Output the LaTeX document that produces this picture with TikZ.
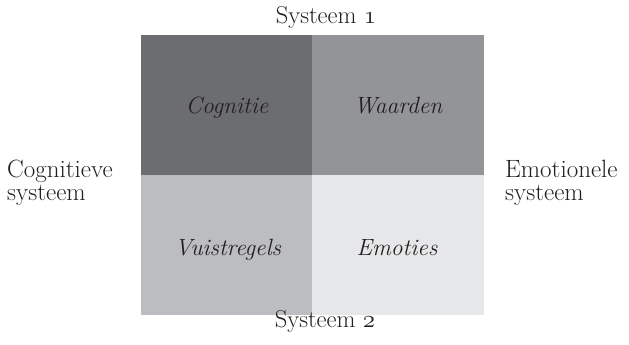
\documentclass[tikz,border=0pt]{standalone}
\usepackage{fontspec}
\definecolor{qdark}{HTML}{6C6D71}
\definecolor{qmid}{HTML}{939497}
\definecolor{qlight}{HTML}{BCBDC0}
\definecolor{qpale}{HTML}{E6E7E8}
\definecolor{ink}{HTML}{231F20}
\newcommand{\heavier}{\addfontfeature{FakeBold=0.6}}
% old-style figure taken from the math italic font
\newcommand{\ofig}[1]{{\usefont{OML}{cmm}{m}{it}#1}}
\begin{document}
\begin{tikzpicture}[x=1pt,y=-1pt,
  quad/.style={fill=#1, draw=none},
  cell/.style={anchor=base, font=\fontsize{23.5}{27}\selectfont\itshape\heavier, text=ink, inner sep=0pt},
  axis/.style={anchor=base, font=\fontsize{24.5}{28}\selectfont\heavier, text=ink, inner sep=0pt},
  side/.style={anchor=base west, font=\fontsize{25}{28}\selectfont\heavier, text=ink, inner sep=0pt}]
  \useasboundingbox (0,0) rectangle (629,345);
  % four quadrants
  \fill[quad=qdark]  (141,35)  rectangle (312,175);
  \fill[quad=qmid]   (312,35)  rectangle (484,175);
  \fill[quad=qlight] (141,175) rectangle (312,315);
  \fill[quad=qpale]  (312,175) rectangle (484,315);
  % quadrant labels
  \node[cell] (cog)  at (227,113) {Cognitie};
  \node[cell] (waa)  at (398,113) {Waarden};
  \node[cell] (vui)  at (228,255) {Vuistregels};
  \node[cell] (emo)  at (397,255) {Emoties};
  % axis labels
  \node[axis] (s1) at (326,24) {Systeem \ofig{1}};
  \node[axis] (s2) at (325,327) {Systeem \ofig{2}};
  \node[side] (cs1) at (7,177) {Cognitieve};
  \node[side] (cs2) at (7,200) {systeem};
  \node[side] (es1) at (505,177) {Emotionele};
  \node[side] (es2) at (505,200) {systeem};
\end{tikzpicture}
\end{document}
